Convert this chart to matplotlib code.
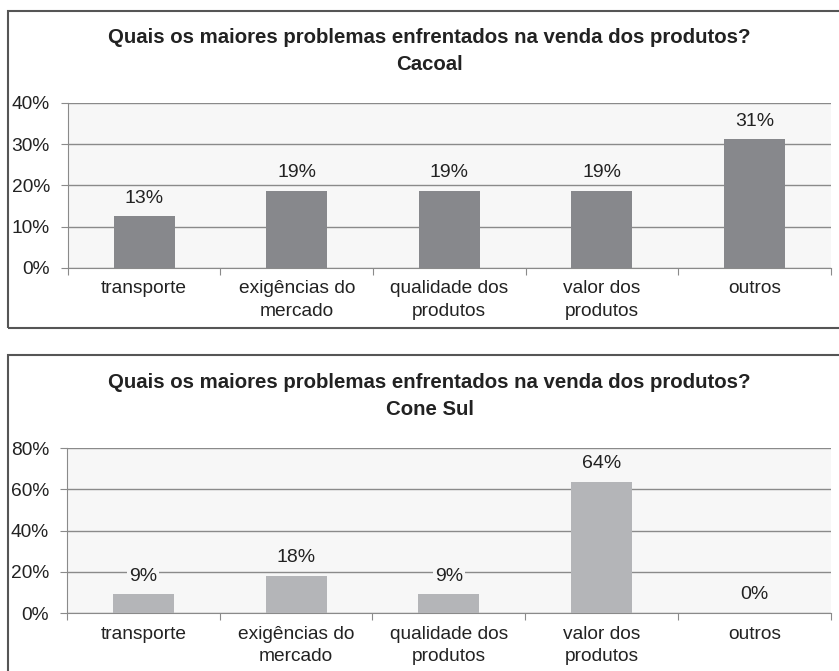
import matplotlib.pyplot as plt
from matplotlib.patches import Rectangle

plt.rcParams['font.family'] = ['Liberation Sans', 'DejaVu Sans']

categorias = ["transporte", "exigências do\nmercado", "qualidade dos\nprodutos",
              "valor dos\nprodutos", "outros"]
cacoal = [0.125, 0.1875, 0.1875, 0.1875, 0.3125]
cacoal_rotulos = ["13%", "19%", "19%", "19%", "31%"]
cone_sul = [0.0909, 0.1818, 0.0909, 0.6364, 0.0]
cone_sul_rotulos = ["9%", "18%", "9%", "64%", "0%"]

titulo = "Quais os maiores problemas enfrentados na venda dos produtos?"

fig = plt.figure(figsize=(8.39, 6.71), dpi=100)

# molduras dos dois graficos
for y0, h in [(0.511, 0.4726), (-0.05, 0.521)]:
    fig.patches.append(Rectangle((0.0095, y0), 1.05, h, transform=fig.transFigure,
                                 fill=False, edgecolor="#555555", linewidth=1.5))


def grafico(pos, valores, rotulos, local, ymax, passo, cor, ytitulo):
    ax = fig.add_axes(pos)
    x = range(len(valores))
    ax.set_facecolor("#f7f7f7")
    ax.bar(x, valores, width=0.4, color=cor, zorder=3)
    for i in x:
        ax.annotate(rotulos[i], (i, valores[i]), xytext=(0, 13), textcoords="offset points",
                    ha="center", va="center", fontsize=14, color="#222222", zorder=4,
                    bbox=dict(boxstyle="square,pad=0.1", fc="#f7f7f7", ec="none"))
    ax.set_xlim(-0.5, 4.5)
    ax.set_ylim(0, ymax)
    yt = [k * passo for k in range(int(round(ymax / passo)) + 1)]
    ax.set_yticks(yt)
    ax.set_yticklabels(["%d%%" % round(v * 100) for v in yt], fontsize=13.8, color="#222222")
    ax.yaxis.grid(True, color="#8a8a8a", linewidth=1, zorder=0)
    ax.set_xticks([k - 0.5 for k in range(6)])
    ax.set_xticklabels([])
    ax.set_xticks(list(x), minor=True)
    ax.set_xticklabels(categorias, minor=True, fontsize=13.8, color="#222222",
                       linespacing=1.45)
    ax.tick_params(axis="x", which="major", direction="out", length=5, color="#8a8a8a")
    ax.tick_params(axis="x", which="minor", length=0, pad=9)
    ax.tick_params(axis="y", direction="out", length=5, color="#8a8a8a", pad=8)
    for s in ["top", "right"]:
        ax.spines[s].set_visible(False)
    for s in ["left", "bottom"]:
        ax.spines[s].set_color("#8a8a8a")
    fig.text(0.512, ytitulo, titulo + "\n" + local, ha="center", va="center",
             fontsize=14.7, fontweight="bold", color="#222222", linespacing=1.55)
    return ax


grafico([0.081, 0.6006, 0.909, 0.2459], cacoal, cacoal_rotulos, "Cacoal",
        0.4, 0.1, "#87888c", 0.924)
grafico([0.0799, 0.0864, 0.9101, 0.2459], cone_sul, cone_sul_rotulos, "Cone Sul",
        0.8, 0.2, "#b4b5b8", 0.41)

plt.savefig("out.png", dpi=100)
